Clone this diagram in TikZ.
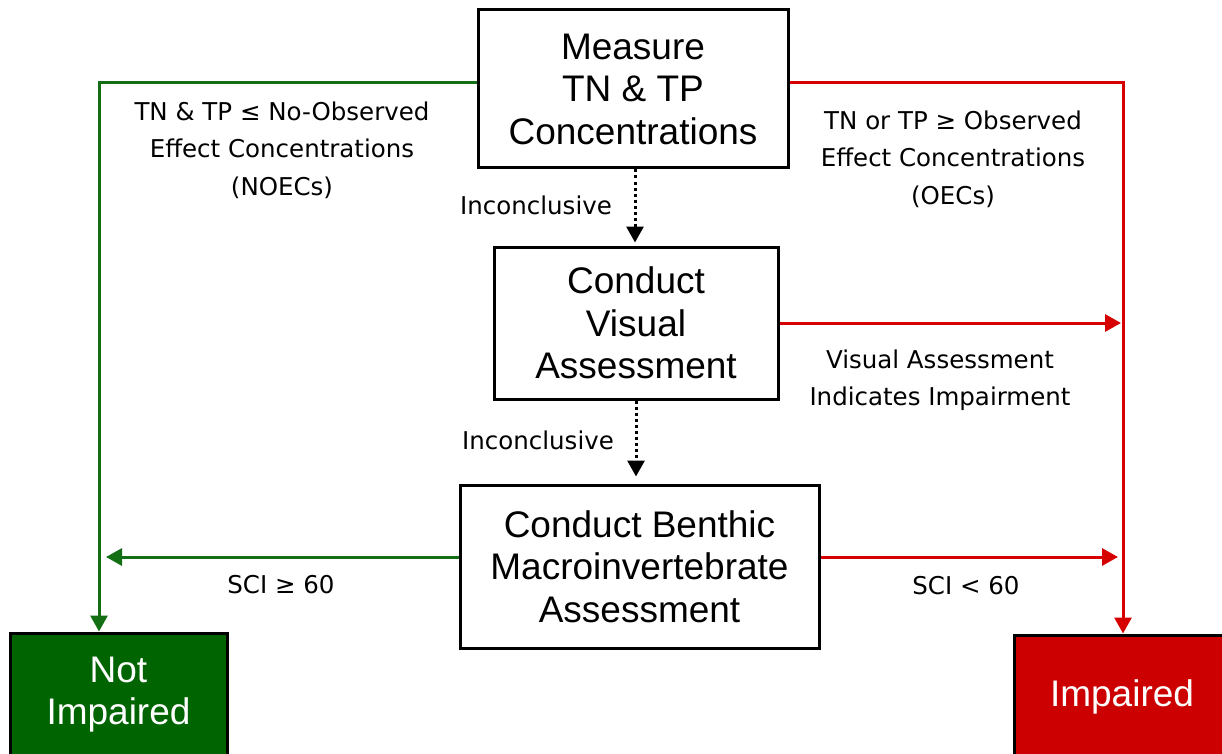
\documentclass[tikz,border=0pt]{standalone}
\usepackage{fontspec}
\setmainfont{Liberation Sans}
\newfontfamily\labfont{DejaVu Sans}
\usetikzlibrary{arrows.meta}
\definecolor{lgreen}{RGB}{20,110,20}
\definecolor{bgreen}{RGB}{0,100,0}
\definecolor{lred}{RGB}{215,0,0}
\definecolor{bred}{RGB}{204,0,0}
\begin{document}
\begin{tikzpicture}[x=1pt,y=-1pt,
  box/.style={draw=black,line width=3pt,align=center,inner sep=0pt,
    font=\fontsize{37}{42.5}\selectfont},
  endbox/.style={box,text=white},
  lab/.style={align=center,inner sep=0pt,font=\labfont\fontsize{24.5}{37.5}\selectfont},
  gline/.style={draw=lgreen,line width=3pt},
  rline/.style={draw=lred,line width=3pt},
  tip/.style={-{Triangle[length=16pt,width=17pt]}},
  dots/.style={draw=black,line width=3pt,dash pattern=on 3pt off 3pt,-{Triangle[length=16pt,width=17pt]}}
]
\useasboundingbox (0,0) rectangle (1222,754);
\clip (0,0) rectangle (1222,754);
\fill[white] (0,0) rectangle (1222,754);

\node[box,minimum width=310pt,minimum height=158pt] (b1) at (633,89) {Measure\\TN \& TP\\Concentrations};
\node[box,minimum width=284pt,minimum height=152pt] (b2) at (636,323) {Conduct\\Visual\\Assessment};
\node[box,minimum width=359pt,minimum height=163pt] (b3) at (639.5,566.5) {Conduct Benthic\\Macroinvertebrate\\Assessment};
\node[endbox,fill=bgreen,minimum width=217pt,minimum height=123pt] (ni) at (118.5,694.5) {Not\\Impaired};
\node[endbox,fill=bred,minimum width=216pt,minimum height=123pt] (im) at (1122,696.5) {Impaired};

\coordinate (gl) at (99,83);
\coordinate (rc) at (1123,83);
\coordinate (b3w) at ([yshift=9.5pt]b3.west);
\coordinate (b3e) at ([yshift=9.5pt]b3.east);

\draw[gline,tip] (b1.west |- gl) -- (gl) -- (gl |- ni.north);
\draw[rline,tip] (b1.east |- rc) -- (rc) -- (rc |- im.north);
\draw[rline,tip,shorten >=2pt] (b2.east) -- (rc |- b2.east);
\draw[gline,tip,shorten >=7pt] (b3w) -- (gl |- b3w);
\draw[rline,tip,shorten >=5pt] (b3e) -- (rc |- b3e);
\draw[dots,shorten >=3pt] (b1.south) ++(2,0) coordinate (d1) -- (d1 |- b2.north);
\draw[dots,shorten >=7pt] (b2.south) coordinate (d2) -- (d2 |- b3.north);

\node[lab] (l1) at (282,150) {TN \& TP ≤ No-Observed\\Effect Concentrations\\(NOECs)};
\node[lab] (l2) at (953,159) {TN or TP ≥ Observed\\Effect Concentrations\\(OECs)};
\node[lab] (l3) at (536,205) {Inconclusive};
\node[lab] (l4) at (538,440) {Inconclusive};
\node[lab] (l5) at (940,380) {Visual Assessment\\Indicates Impairment};
\node[lab] (l6) at (281,585) {SCI ≥ 60};
\node[lab] (l7) at (966,586) {SCI < 60};
\end{tikzpicture}
\end{document}
